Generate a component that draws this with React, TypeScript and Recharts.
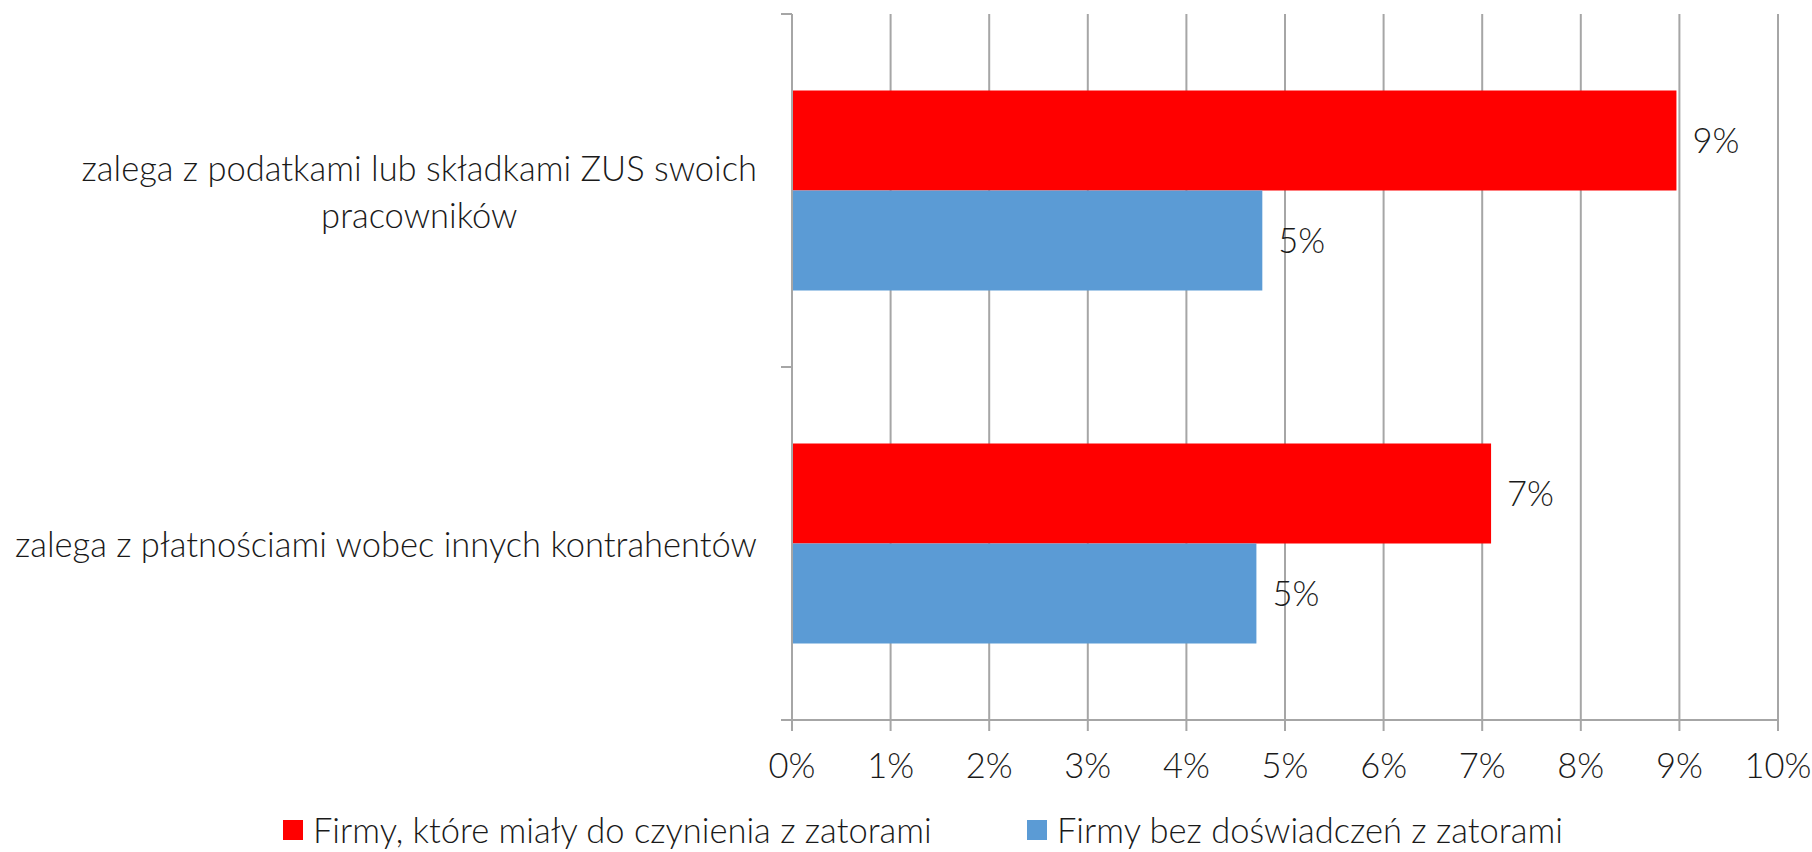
import { BarChart, Bar, XAxis, YAxis, CartesianGrid, Legend, LabelList } from 'recharts'

// categories and values (in %)
const categories = [
  'zalega z podatkami lub składkami ZUS swoich pracowników',
  'zalega z płatnościami wobec innych kontrahentów',
]
const withJams = [8.97, 7.09]
const withoutJams = [4.77, 4.71]
const xTicks = [0, 1, 2, 3, 4, 5, 6, 7, 8, 9, 10]
const seriesNames = ['Firmy, które miały do czynienia z zatorami', 'Firmy bez doświadczeń z zatorami']
const seriesColors = ['#FF0000', '#5B9BD5']

const data = categories.map((name, i) => ({
  name,
  withJams: withJams[i],
  withoutJams: withoutJams[i],
}))

const WIDTH = 1812
const HEIGHT = 852
const PLOT_TOP = 14
const PLOT_BOTTOM = 720
const AXIS_X = 792
const FONT = 'Lato, "Open Sans", sans-serif'
const FONT_SIZE = 34.5
const TEXT = '#1a1a1a'
const GRID = '#a6a6a6'
const LABEL_MAX = 760

const pct = (v: number) => `${Math.round(v)}%`

// greedy word wrap, measured with a canvas so each line can be centred
let ctx: CanvasRenderingContext2D | null = null
function wrap(text: string, maxWidth: number) {
  if (!ctx) ctx = document.createElement('canvas').getContext('2d')
  if (!ctx) return [text]
  ctx.font = `300 ${FONT_SIZE}px ${FONT}`
  const lines: string[] = []
  let line = ''
  for (const word of text.split(' ')) {
    const next = line ? `${line} ${word}` : word
    if (line && ctx.measureText(next).width > maxWidth) {
      lines.push(line)
      line = word
    } else {
      line = next
    }
  }
  if (line) lines.push(line)
  return lines
}

function CategoryTick(props: any) {
  const { x, y, payload, index } = props
  const half = (PLOT_BOTTOM - PLOT_TOP) / categories.length / 2
  const lines = wrap(String(payload.value), LABEL_MAX)
  return (
    <g>
      <line x1={x - 11} x2={x} y1={y - half} y2={y - half} stroke={GRID} strokeWidth={2} />
      {index === categories.length - 1 && (
        <line x1={x - 11} x2={x} y1={y + half} y2={y + half} stroke={GRID} strokeWidth={2} />
      )}
      <foreignObject x={x - AXIS_X} y={y - 70} width={AXIS_X - 35} height={140}>
        <div
          style={{
            width: '100%',
            height: '100%',
            display: 'flex',
            alignItems: 'center',
            justifyContent: 'flex-end',
          }}
        >
          <div
            style={{
              display: 'flex',
              flexDirection: 'column',
              alignItems: 'center',
              fontFamily: FONT,
              fontWeight: 300,
              fontSize: FONT_SIZE,
              lineHeight: '47px',
              color: TEXT,
              whiteSpace: 'nowrap',
            }}
          >
            {lines.map((l) => (
              <span key={l}>{l}</span>
            ))}
          </div>
        </div>
      </foreignObject>
    </g>
  )
}

function LegendContent() {
  return (
    <div style={{ display: 'flex', paddingLeft: 283, fontFamily: FONT, fontWeight: 300, fontSize: FONT_SIZE, color: TEXT }}>
      {seriesNames.map((name, i) => (
        <div key={name} style={{ display: 'flex', alignItems: 'center', width: i === 0 ? 744 : 'auto' }}>
          <span style={{ width: 20, height: 20, background: seriesColors[i], marginRight: 10, display: 'inline-block' }} />
          <span style={{ lineHeight: '40px' }}>{name}</span>
        </div>
      ))}
    </div>
  )
}

export default function App() {
  return (
    <div style={{ position: 'absolute', left: 0, top: 0, width: WIDTH, height: HEIGHT, background: '#fff', overflow: 'hidden' }}>
      <BarChart
        width={WIDTH}
        height={HEIGHT}
        data={data}
        layout="vertical"
        margin={{ top: PLOT_TOP, right: WIDTH - 1778, left: 0, bottom: 0 }}
        barCategoryGap="21.7%"
        barGap={0}
      >
        <CartesianGrid horizontal={false} vertical stroke={GRID} strokeWidth={2} />
        <XAxis
          type="number"
          domain={[0, 10]}
          ticks={xTicks}
          tickFormatter={(v: number) => `${v}%`}
          height={HEIGHT - PLOT_BOTTOM}
          stroke={GRID}
          strokeWidth={2}
          tickSize={11}
          tickMargin={23}
          tick={{ fill: TEXT, fontSize: FONT_SIZE, fontFamily: FONT, fontWeight: 300 }}
          interval={0}
        />
        <YAxis
          type="category"
          dataKey="name"
          width={AXIS_X}
          stroke={GRID}
          strokeWidth={2}
          tickLine={false}
          tickSize={0}
          tickMargin={0}
          tick={<CategoryTick />}
          interval={0}
        />
        <Legend
          layout="vertical"
          align="center"
          verticalAlign="middle"
          wrapperStyle={{ left: 0, top: 810, width: WIDTH }}
          content={<LegendContent />}
        />
        <Bar dataKey="withJams" name={seriesNames[0]} fill={seriesColors[0]} isAnimationActive={false}>
          <LabelList
            dataKey="withJams"
            position="right"
            offset={16}
            formatter={(v: any) => pct(Number(v))}
            style={{ fill: TEXT, fontSize: FONT_SIZE, fontFamily: FONT, fontWeight: 300 }}
          />
        </Bar>
        <Bar dataKey="withoutJams" name={seriesNames[1]} fill={seriesColors[1]} isAnimationActive={false}>
          <LabelList
            dataKey="withoutJams"
            position="right"
            offset={16}
            formatter={(v: any) => pct(Number(v))}
            style={{ fill: TEXT, fontSize: FONT_SIZE, fontFamily: FONT, fontWeight: 300 }}
          />
        </Bar>
      </BarChart>
    </div>
  )
}
